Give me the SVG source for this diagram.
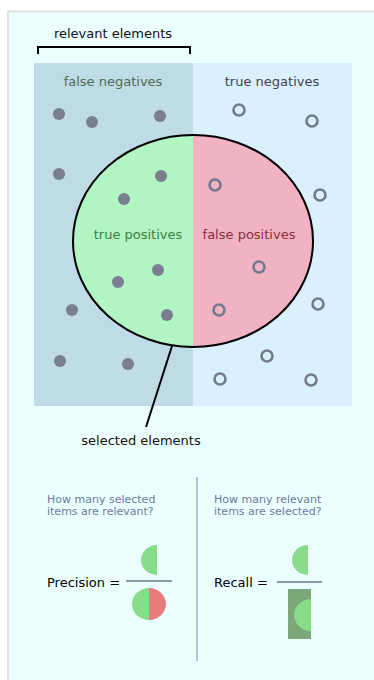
<svg xmlns="http://www.w3.org/2000/svg" width="374" height="680" viewBox="0 0 374 680">
<style>
text{font-family:"DejaVu Sans","Liberation Sans",sans-serif}
.lbl{font-size:13px}
.q{font-size:11px;fill:#6b7a99}
.rel{fill:#797e91}
.irr{fill:none;stroke:#717b8e;stroke-width:2.6}
</style>
<defs>
<clipPath id="leftHalf"><rect x="0" y="0" width="193" height="680"/></clipPath>
<clipPath id="rightHalf"><rect x="193" y="0" width="181" height="680"/></clipPath>
<clipPath id="recallBox"><rect x="288" y="589" width="23" height="50"/></clipPath>
</defs>
<rect x="0" y="0" width="374" height="680" fill="#ffffff"/>
<rect x="8" y="11.5" width="370" height="672" fill="#ebffff" stroke="#e2e2e2" stroke-width="2"/>

<g id="relevant-region">
<rect x="34" y="63" width="159" height="343" fill="#bedbe6"/>
<text class="lbl" x="113" y="86" text-anchor="middle" fill="#4e6b57">false negatives</text>
</g>
<g id="irrelevant-region">
<rect x="193" y="63" width="159" height="343" fill="#dbf0fe"/>
<text class="lbl" x="272" y="86" text-anchor="middle" fill="#3b4454">true negatives</text>
</g>

<g id="relevant-bracket">
<path d="M38 54 V47 H190 V54" fill="none" stroke="#000" stroke-width="2"/>
<text class="lbl" x="113" y="38" text-anchor="middle" fill="#111">relevant elements</text>
</g>

<g id="selected-ellipse">
<ellipse cx="193" cy="241" rx="120" ry="106" fill="#b1f5c3" clip-path="url(#leftHalf)"/>
<ellipse cx="193" cy="241" rx="120" ry="106" fill="#f1b2c4" clip-path="url(#rightHalf)"/>
<ellipse cx="193" cy="241" rx="120" ry="106" fill="none" stroke="#000" stroke-width="2"/>
<text class="lbl" x="138" y="239" text-anchor="middle" fill="#3e7a45">true positives</text>
<text class="lbl" x="249" y="239" text-anchor="middle" fill="#8c2c3c">false positives</text>
</g>

<g id="relevant-dots">
<circle class="rel" cx="59" cy="114" r="6"/>
<circle class="rel" cx="92" cy="122" r="6"/>
<circle class="rel" cx="160" cy="116" r="6"/>
<circle class="rel" cx="59" cy="174" r="6"/>
<circle class="rel" cx="161" cy="176" r="6"/>
<circle class="rel" cx="124" cy="199" r="6"/>
<circle class="rel" cx="158" cy="270" r="6"/>
<circle class="rel" cx="118" cy="282" r="6"/>
<circle class="rel" cx="167" cy="315" r="6"/>
<circle class="rel" cx="72" cy="310" r="6"/>
<circle class="rel" cx="60" cy="361" r="6"/>
<circle class="rel" cx="128" cy="364" r="6"/>
</g>
<g id="irrelevant-dots">
<circle class="irr" cx="239" cy="110" r="5.5"/>
<circle class="irr" cx="312" cy="121" r="5.5"/>
<circle class="irr" cx="215" cy="185" r="5.5"/>
<circle class="irr" cx="320" cy="195" r="5.5"/>
<circle class="irr" cx="259" cy="267" r="5.5"/>
<circle class="irr" cx="219" cy="310" r="5.5"/>
<circle class="irr" cx="318" cy="304" r="5.5"/>
<circle class="irr" cx="267" cy="356" r="5.5"/>
<circle class="irr" cx="220" cy="379" r="5.5"/>
<circle class="irr" cx="311" cy="380" r="5.5"/>
</g>

<g id="connectors">
<line x1="172" y1="346" x2="146" y2="427" stroke="#000" stroke-width="2"/>
<line x1="197" y1="477" x2="197" y2="661" stroke="#a2b0c8" stroke-width="1.5"/>
</g>

<g id="selected-label">
<text class="lbl" x="141" y="445" text-anchor="middle" fill="#111">selected elements</text>
</g>

<g id="precision">
<text class="q" x="47" y="503">How many selected</text>
<text class="q" x="47" y="515">items are relevant?</text>
<text class="lbl" x="47" y="587" fill="#000">Precision =</text>
<line x1="126" y1="581" x2="172" y2="581" stroke="#6f7789" stroke-width="1.5"/>
<path d="M157 545 A16 15 0 0 0 157 575 Z" fill="#88dc87"/>
<path d="M149 588 A17 16 0 0 0 149 620 Z" fill="#88dc87"/>
<path d="M149 588 A17 16 0 0 1 149 620 Z" fill="#e77c7e"/>
</g>

<g id="recall">
<text class="q" x="214" y="503">How many relevant</text>
<text class="q" x="214" y="515">items are selected?</text>
<text class="lbl" x="214" y="587" fill="#000">Recall =</text>
<line x1="277" y1="582" x2="322" y2="582" stroke="#6f7789" stroke-width="1.5"/>
<path d="M308 545 A16 15 0 0 0 308 575 Z" fill="#88dc87"/>
<rect x="288" y="589" width="23" height="50" fill="#7aa87b"/>
<path d="M311 599 A17 16 0 0 0 311 631 Z" fill="#88dc87" clip-path="url(#recallBox)"/>
</g>
</svg>
